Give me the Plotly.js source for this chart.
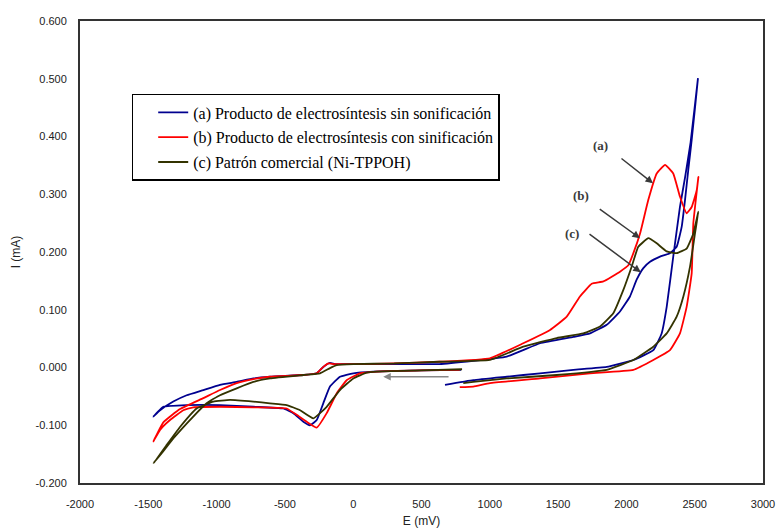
<!DOCTYPE html>
<html>
<head>
<meta charset="utf-8">
<script src="https://cdn.plot.ly/plotly-3.0.1.min.js"></script>
<style>html,body{margin:0;padding:0;background:#fff;}#chart{width:779px;height:531px;}</style>
</head>
<body>
<div id="chart"></div>
<script>
// ---- Data (E in mV, I in mA), traced in scan order ----
const seriesNames = [
  "(a) Producto de electrosíntesis sin sonificación",
  "(b) Producto de electrosíntesis con sinificación",
  "(c) Patrón comercial (Ni-TPPOH)"
];

const blueE = [790, 500, 147, 1, -97, -170, -219, -267, -316, -365, -438, -512, -731, -975, -1219, -1390, -1463,
  -1414, -1317, -1219, -1097, -975, -853, -731, -609, -365, -267, -219, -170, -133, 1, 300, 631, 1124, 1368, 1612,
  1734, 1856, 1953, 2026, 2075, 2124, 2173, 2246, 2319, 2368, 2405, 2429, 2453, 2478, 2524,
  2470, 2430, 2392, 2343, 2295, 2258, 2197, 2051, 1856, 1612, 1368, 1124, 879, 672];
const blueI = [-0.004, -0.005, -0.007, -0.010, -0.016, -0.033, -0.062, -0.091, -0.100, -0.094, -0.079, -0.071, -0.068, -0.065, -0.065, -0.068, -0.085,
  -0.074, -0.059, -0.048, -0.039, -0.030, -0.025, -0.019, -0.016, -0.013, -0.010, 0.001, 0.008, 0.006, 0.006, 0.006, 0.006, 0.019, 0.042, 0.053,
  0.059, 0.074, 0.097, 0.123, 0.152, 0.172, 0.183, 0.192, 0.198, 0.209, 0.244, 0.290, 0.342, 0.394, 0.501,
  0.390, 0.330, 0.278, 0.192, 0.105, 0.059, 0.030, 0.013, 0.001, -0.004, -0.010, -0.016, -0.022, -0.030];

const redE = [780, 500, 172, 50, -48, -121, -194, -267, -340, -414, -487, -731, -975, -1171, -1244, -1341, -1414, -1463,
  -1390, -1268, -1097, -975, -853, -731, -609, -365, -267, -219, -180, -140, 1, 300, 631, 1001, 1245, 1441, 1563, 1660,
  1746, 1831, 1953, 2014, 2051, 2100, 2160, 2222, 2283, 2343, 2392, 2441, 2478, 2515, 2527,
  2490, 2478, 2441, 2392, 2319, 2197, 2051, 1734, 1368, 1001, 879, 780];
const redI = [-0.004, -0.005, -0.007, -0.010, -0.022, -0.045, -0.079, -0.104, -0.094, -0.082, -0.071, -0.069, -0.068, -0.069, -0.074, -0.091, -0.108, -0.128,
  -0.095, -0.072, -0.053, -0.039, -0.027, -0.020, -0.016, -0.013, -0.010, 0.001, 0.007, 0.006, 0.006, 0.007, 0.010, 0.016, 0.042, 0.065, 0.088, 0.123,
  0.145, 0.149, 0.166, 0.177, 0.198, 0.232, 0.290, 0.336, 0.351, 0.336, 0.296, 0.267, 0.278, 0.307, 0.330,
  0.250, 0.163, 0.105, 0.059, 0.030, 0.013, -0.004, -0.010, -0.019, -0.027, -0.033, -0.034];

const oliveE = [797, 500, 172, 99, 1, -97, -194, -292, -389, -487, -609, -731, -902, -1024, -1146, -1268, -1365, -1463,
  -1390, -1317, -1171, -1073, -975, -853, -731, -609, -365, -243, -170, -121, 1, 300, 631, 1001, 1245, 1490, 1685, 1807,
  1904, 1977, 2039, 2087, 2161, 2222, 2295, 2368, 2441, 2490, 2527,
  2502, 2466, 2417, 2368, 2295, 2197, 2051, 1856, 1490, 1124, 879, 806];
const oliveI = [-0.003, -0.005, -0.007, -0.009, -0.019, -0.039, -0.068, -0.088, -0.074, -0.065, -0.062, -0.059, -0.056, -0.059, -0.071, -0.103, -0.134, -0.166,
  -0.145, -0.123, -0.085, -0.062, -0.048, -0.036, -0.025, -0.019, -0.013, -0.010, -0.001, 0.004, 0.006, 0.007, 0.010, 0.013, 0.036, 0.051, 0.059, 0.071,
  0.094, 0.134, 0.175, 0.209, 0.224, 0.215, 0.201, 0.198, 0.206, 0.232, 0.270,
  0.232, 0.175, 0.123, 0.088, 0.059, 0.036, 0.013, -0.004, -0.013, -0.019, -0.025, -0.027];

// Axis ticks
const xTickVals = [-2000, -1500, -1000, -500, 0, 500, 1000, 1500, 2000, 2500, 3000];
const xTickText = ["-2000", "-1500", "-1000", "-500", "0", "500", "1000", "1500", "2000", "2500", "3000"];
const yTickVals = [-0.2, -0.1, 0, 0.1, 0.2, 0.3, 0.4, 0.5, 0.6];
const yTickText = ["-0.200", "-0.100", "0.000", "0.100", "0.200", "0.300", "0.400", "0.500", "0.600"];

// Peak labels and arrows
const peakLabels = ["(a)", "(b)", "(c)"];
const peakLabelE = [1810, 1670, 1600];
const peakLabelI = [0.385, 0.297, 0.232];
const arrowTailE = [1953, 1794, 1719];
const arrowTailI = [0.364, 0.276, 0.233];
const arrowHeadE = [2195, 2099, 2105];
const arrowHeadI = [0.319, 0.224, 0.165];

// Scan-direction arrow
const scanArrowE = [709, 220];
const scanArrowI = [-0.016, -0.016];

// ---- Traces ----
const colors = ["#00008f", "#ff0000", "#333300"];
const xs = [blueE, redE, oliveE];
const ys = [blueI, redI, oliveI];
const traces = xs.map((x, k) => ({
  x: x, y: ys[k], type: "scatter", mode: "lines", name: seriesNames[k],
  legendgroup: "g" + k,
  line: {color: colors[k], width: 1.8, shape: "spline", smoothing: 0.35}
}));

const annotations = [];
for (let k = 0; k < peakLabels.length; k++) {
  annotations.push({
    x: peakLabelE[k], y: peakLabelI[k], xref: "x", yref: "y", text: "<b>" + peakLabels[k] + "</b>",
    showarrow: false, font: {family: "Liberation Serif, Times New Roman, serif", size: 13, color: "#3a3a3a"}
  });
  annotations.push({
    x: arrowHeadE[k], y: arrowHeadI[k], ax: arrowTailE[k], ay: arrowTailI[k],
    xref: "x", yref: "y", axref: "x", ayref: "y", text: "", showarrow: true,
    arrowhead: 2, arrowsize: 1, arrowwidth: 1.5, arrowcolor: "#3a3a3a"
  });
}
annotations.push({
  x: scanArrowE[1], y: scanArrowI[1], ax: scanArrowE[0], ay: scanArrowI[0],
  xref: "x", yref: "y", axref: "x", ayref: "y", text: "", showarrow: true,
  arrowhead: 2, arrowsize: 1, arrowwidth: 1.5, arrowcolor: "#888"
});

const tickFont = {family: "Liberation Sans, Arial, sans-serif", size: 11, color: "#222"};
const layout = {
  width: 779, height: 531,
  margin: {l: 80, r: 16, t: 21, b: 48},
  paper_bgcolor: "#fff", plot_bgcolor: "#fff",
  showlegend: true,
  legend: {
    x: 0.0757, y: 0.842, xanchor: "left", yanchor: "top",
    bgcolor: "#fff", bordercolor: "#000", borderwidth: 1.5,
    font: {family: "Liberation Serif, Times New Roman, serif", size: 16, color: "#000"},
    tracegroupgap: 1, indentation: 20
  },
  xaxis: {
    range: [-2000, 3000], tickmode: "array", tickvals: xTickVals, ticktext: xTickText,
    showgrid: false, zeroline: false, showline: true, mirror: true, linecolor: "#333", linewidth: 2,
    ticks: "", ticklabelstandoff: 10, tickfont: tickFont,
    title: {text: "E (mV)", font: {family: "Liberation Sans, Arial, sans-serif", size: 12, color: "#222"}, standoff: 7}
  },
  yaxis: {
    range: [-0.2, 0.6], tickmode: "array", tickvals: yTickVals, ticktext: yTickText,
    showgrid: false, zeroline: false, showline: true, mirror: true, linecolor: "#333", linewidth: 2,
    ticks: "", ticklabelstandoff: 9, tickfont: tickFont,
    title: {text: "I (mA)", font: {family: "Liberation Sans, Arial, sans-serif", size: 12, color: "#222"}, standoff: 12}
  },
  annotations: annotations
};

Plotly.newPlot("chart", traces, layout, {staticPlot: true, displayModeBar: false});
</script>
</body>
</html>
